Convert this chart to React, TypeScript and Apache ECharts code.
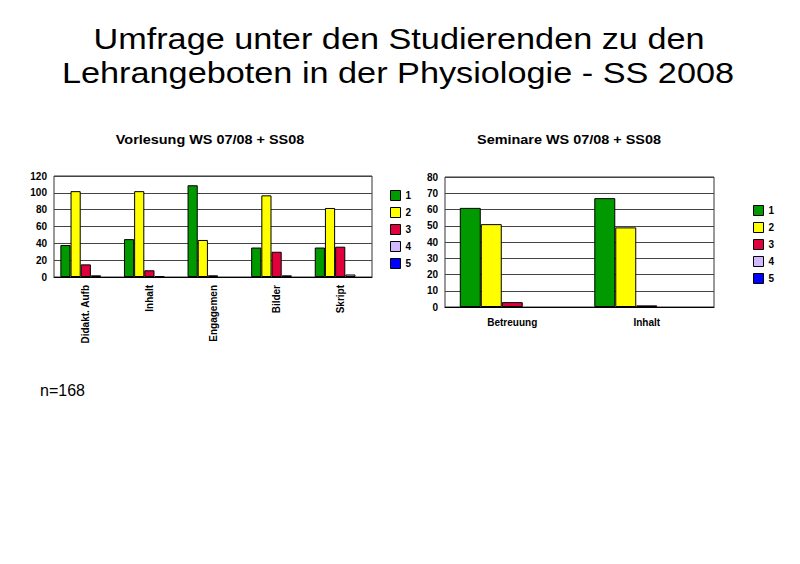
import React, { useEffect, useRef } from "react";
import * as echarts from "echarts";

const leftCategories = ["Didakt. Aufb", "Inhalt", "Engagemen", "Bilder", "Skript"];
const rightCategories = ["Betreuung", "Inhalt"];
const seriesNames = ["1", "2", "3", "4", "5"];
const seriesColors = ["#009900", "#ffff00", "#e0003c", "#d4b8ff", "#0000ff"];

const left1 = [38, 45, 109, 35, 35];
const left2 = [102, 102, 44, 97, 82];
const left3 = [15, 8, 2, 30, 36];
const left4 = [2, 1, 0, 2, 3];
const left5 = [0, 0, 0, 0, 0];

const right1 = [61, 67];
const right2 = [51, 49];
const right3 = [3, 1];
const right4 = [0, 0];
const right5 = [0, 0];

const leftTicks = { min: 0, max: 120, interval: 20 };
const rightTicks = { min: 0, max: 80, interval: 10 };

const titleLines = ["Umfrage unter den Studierenden zu den", "Lehrangeboten in der Physiologie - SS 2008"];
const leftTitle = "Vorlesung WS 07/08 + SS08";
const rightTitle = "Seminare WS 07/08 + SS08";
const note = "n=168";

export default function App() {
  const ref = useRef<HTMLDivElement>(null);
  useEffect(() => {
    const chart = echarts.init(ref.current!, null, { renderer: "svg" });
    const leftData = [left1, left2, left3, left4, left5];
    const rightData = [right1, right2, right3, right4, right5];
    const font = "Arial, 'Liberation Sans', sans-serif";
    const axisLabel = { color: "#000", fontSize: 10, fontWeight: "bold" as const, fontFamily: font };
    // zero values draw no bar (as in the reference)
    const shown = (arr: number[]) => arr.map((v) => (v === 0 ? "-" : v));
    const series: any[] = [];
    seriesNames.forEach((n, i) => {
      series.push({
        type: "bar",
        name: n,
        xAxisIndex: 0,
        yAxisIndex: 0,
        data: shown(leftData[i]),
        barGap: "0%",
        barCategoryGap: "20%",
        itemStyle: { color: seriesColors[i], borderColor: "#000", borderWidth: 1 },
      });
    });
    seriesNames.forEach((n, i) => {
      series.push({
        type: "bar",
        name: n,
        xAxisIndex: 1,
        yAxisIndex: 1,
        data: shown(rightData[i]),
        barGap: "0%",
        barCategoryGap: "22%",
        itemStyle: { color: seriesColors[i], borderColor: "#000", borderWidth: 1 },
      });
    });
    const legendBase = {
      orient: "vertical" as const,
      data: seriesNames,
      itemWidth: 10,
      itemHeight: 10,
      itemGap: 6,
      padding: 0,
      icon: "rect",
      selectedMode: false,
      textStyle: { color: "#000", fontSize: 10, fontWeight: "bold" as const, fontFamily: font },
      itemStyle: { borderColor: "#000", borderWidth: 1 },
    };
    const txt = (text: string, x: number, y: number, size: number, weight: string, scaleX: number, align = "center") => ({
      type: "text",
      x,
      y,
      scaleX,
      style: {
        text,
        fill: "#000",
        font: `${weight} ${size}px Arial, 'Liberation Sans', sans-serif`,
        align,
        verticalAlign: "middle",
      },
    });
    chart.setOption({
      animation: false,
      backgroundColor: "#fff",
      graphic: [
        txt(titleLines[0], 399, 39, 30, "normal", 1.142),
        txt(titleLines[1], 398, 73, 30, "normal", 1.142),
        txt(leftTitle, 210, 139.5, 13, "bold", 1.11),
        txt(rightTitle, 569, 139.5, 13, "bold", 1.11),
        txt(note, 40, 390, 16, "normal", 1, "left"),
      ],
      legend: [
        { ...legendBase, left: 390, top: 190 },
        { ...legendBase, left: 753, top: 205 },
      ],
      grid: [
        { left: 54, top: 176, width: 318, height: 101, show: true, borderColor: "#333", borderWidth: 1, backgroundColor: "#fff" },
        { left: 445, top: 177, width: 269, height: 130, show: true, borderColor: "#333", borderWidth: 1, backgroundColor: "#fff" },
      ],
      xAxis: [
        {
          type: "category",
          gridIndex: 0,
          data: leftCategories,
          axisLine: { lineStyle: { color: "#000", width: 1 } },
          axisTick: { show: false },
          axisLabel: { ...axisLabel, rotate: 90, margin: 8, interval: 0 },
        },
        {
          type: "category",
          gridIndex: 1,
          data: rightCategories,
          axisLine: { lineStyle: { color: "#000", width: 1 } },
          axisTick: { show: false },
          axisLabel: { ...axisLabel, margin: 10, interval: 0 },
        },
      ],
      yAxis: [
        {
          type: "value",
          gridIndex: 0,
          ...leftTicks,
          axisLine: { show: false },
          axisTick: { show: false },
          axisLabel: { ...axisLabel, margin: 7 },
          splitLine: { lineStyle: { color: "#444", width: 1 } },
        },
        {
          type: "value",
          gridIndex: 1,
          ...rightTicks,
          axisLine: { show: false },
          axisTick: { show: false },
          axisLabel: { ...axisLabel, margin: 7 },
          splitLine: { lineStyle: { color: "#444", width: 1 } },
        },
      ],
      series,
    });
    return () => chart.dispose();
  }, []);
  return (
    <div
      ref={ref}
      style={{ position: "fixed", left: 0, top: 0, width: 800, height: 564, background: "#fff" }}
    />
  );
}
